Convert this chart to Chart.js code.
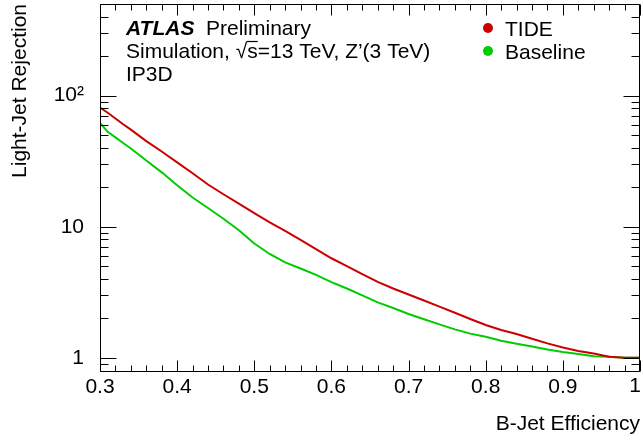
<!DOCTYPE html>
<html>
<head>
<meta charset="utf-8">
<script src="https://cdn.jsdelivr.net/npm/chart.js@4.4.1/dist/chart.umd.min.js"></script>
<style>
  html, body { margin: 0; padding: 0; background: #fff; }
  canvas { display: block; }
</style>
</head>
<body>
<canvas id="rocChart" width="641" height="438"></canvas>
<script>
// b-jet efficiency points shared by both curves
const bEff = [0.30, 0.31, 0.32, 0.33, 0.34, 0.36, 0.38, 0.40, 0.42, 0.44,
  0.46, 0.48, 0.50, 0.52, 0.54, 0.56, 0.58, 0.60, 0.62, 0.64,
  0.66, 0.68, 0.70, 0.72, 0.74, 0.76, 0.78, 0.80, 0.82, 0.84,
  0.86, 0.88, 0.90, 0.92, 0.94, 0.96, 0.98, 1.00];

// light-jet rejection, TIDE tracking
const tideRej = [81, 74, 67, 60.5, 55, 45, 37.5, 31, 25.6, 21.0,
  17.7, 15.0, 12.7, 10.8, 9.3, 7.95, 6.75, 5.75, 5.0, 4.35,
  3.8, 3.38, 3.04, 2.74, 2.46, 2.21, 1.98, 1.78, 1.63, 1.52,
  1.40, 1.29, 1.20, 1.13, 1.08, 1.02, 1.0, 1.0];

// light-jet rejection, baseline tracking
const baseRej = [62, 53, 48, 43.5, 39.5, 32, 26, 20.7, 16.7, 13.9,
  11.5, 9.4, 7.45, 6.2, 5.35, 4.8, 4.3, 3.78, 3.38, 3.0,
  2.65, 2.4, 2.16, 1.97, 1.80, 1.65, 1.53, 1.45, 1.35, 1.28,
  1.22, 1.16, 1.11, 1.07, 1.03, 1.02, 1.0, 1.0];

const seriesNames = ['TIDE', 'Baseline'];
const seriesColors = ['#cc0000', '#00cc00'];

const xTicks = [0.3, 0.4, 0.5, 0.6, 0.7, 0.8, 0.9, 1.0];
const yTicks = [1, 10, 100];
const yTickLabels = ['1', '10', '10²'];

const FONT = "'Liberation Sans', Arial, Helvetica, sans-serif";
Chart.defaults.font.family = FONT;
Chart.defaults.color = '#000';

const fmtX = (v) => String(Number(v.toFixed(1)));

// frame with ROOT-style inward ticks on all four sides
const frameTicks = {
  id: 'frameTicks',
  afterDatasetsDraw(chart) {
    const { ctx, chartArea: a, scales: { x, y } } = chart;
    const L = a.left + 0.5, R = a.right - 0.5, T = a.top + 0.5, B = a.bottom - 0.5;
    ctx.save();
    ctx.strokeStyle = '#000';
    ctx.lineWidth = 1;
    ctx.beginPath();
    ctx.rect(L, T, R - L, B - T);

    // x: majors plus 4 minors in between
    for (let i = 0; i < xTicks.length; i++) {
      const px = Math.round(x.getPixelForValue(xTicks[i])) + 0.5;
      ctx.moveTo(px, B); ctx.lineTo(px, B - 11);
      ctx.moveTo(px, T); ctx.lineTo(px, T + 11);
      if (i < xTicks.length - 1) {
        const step = (xTicks[i + 1] - xTicks[i]) / 5;
        for (let k = 1; k < 5; k++) {
          const mx = Math.round(x.getPixelForValue(xTicks[i] + k * step)) + 0.5;
          ctx.moveTo(mx, B); ctx.lineTo(mx, B - 6);
          ctx.moveTo(mx, T); ctx.lineTo(mx, T + 6);
        }
      }
    }

    // y: decades long, 2..9 short
    for (let d = 0.1; d <= 1000; d *= 10) {
      for (let k = 1; k <= 9; k++) {
        const v = k * d;
        if (v < y.min || v > y.max) continue;
        const py = Math.round(y.getPixelForValue(v)) + 0.5;
        const len = k === 1 ? 16 : 8;
        ctx.moveTo(L, py); ctx.lineTo(L + len, py);
        ctx.moveTo(R, py); ctx.lineTo(R - len, py);
      }
    }
    ctx.stroke();
    ctx.restore();
  }
};

// ATLAS label block, legend, and the last x label pulled inside the canvas
const labels = {
  id: 'labels',
  afterDraw(chart) {
    const { ctx, scales: { x } } = chart;
    ctx.save();
    ctx.fillStyle = '#000';
    ctx.strokeStyle = '#000';
    ctx.textBaseline = 'alphabetic';
    ctx.textAlign = 'left';

    ctx.font = `italic bold 21px ${FONT}`;
    ctx.fillText('ATLAS', 126, 35);
    ctx.font = `21px ${FONT}`;
    ctx.fillText('Preliminary', 206, 35);

    let cx = 126;
    const y2 = 58;
    const head = 'Simulation, ';
    ctx.fillText(head, cx, y2);
    cx += ctx.measureText(head).width;
    ctx.fillText('√', cx, y2);
    cx += ctx.measureText('√').width;
    ctx.fillText('s', cx, y2);
    const sw = ctx.measureText('s').width;
    ctx.beginPath();
    ctx.lineWidth = 1.2;
    ctx.moveTo(cx - 0.5, y2 - 16.5);
    ctx.lineTo(cx + sw, y2 - 16.5);
    ctx.stroke();
    cx += sw;
    ctx.fillText('=13 TeV, Z’(3 TeV)', cx, y2);

    ctx.fillText('IP3D', 126, 81);

    chart.data.datasets.forEach((ds, i) => {
      const cy = 28 + i * 23;
      ctx.fillStyle = ds.borderColor;
      ctx.beginPath();
      ctx.arc(488, cy, 5, 0, Math.PI * 2);
      ctx.fill();
      ctx.fillStyle = '#000';
      ctx.fillText(ds.label, 505, cy + 7.5);
    });

    const last = xTicks[xTicks.length - 1];
    ctx.textAlign = 'right';
    ctx.fillText(fmtX(last), Math.min(x.getPixelForValue(last) + 5, chart.width), 392);
    ctx.restore();
  }
};

const toPoints = (rej) => bEff.map((e, i) => ({ x: e, y: rej[i] }));

new Chart(document.getElementById('rocChart').getContext('2d'), {
  type: 'line',
  data: {
    datasets: [
      { label: seriesNames[0], data: toPoints(tideRej), borderColor: seriesColors[0] },
      { label: seriesNames[1], data: toPoints(baseRej), borderColor: seriesColors[1] }
    ]
  },
  options: {
    responsive: false,
    animation: false,
    devicePixelRatio: 1,
    layout: { padding: { top: 4, right: 1, bottom: 0, left: 0 } },
    elements: {
      line: { borderWidth: 2, tension: 0, fill: false },
      point: { radius: 0 }
    },
    plugins: {
      legend: { display: false },
      tooltip: { enabled: false }
    },
    scales: {
      x: {
        type: 'linear',
        min: 0.3,
        max: 1.0,
        grid: { display: false },
        border: { display: false },
        afterBuildTicks: (s) => { s.ticks = xTicks.map(v => ({ value: v })); },
        afterFit: (s) => { s.height = 66; s.paddingLeft = 0; s.paddingRight = 0; },
        ticks: {
          autoSkip: false,
          maxRotation: 0,
          padding: -5,
          font: { size: 21 },
          // the end label is drawn by the labels plugin so it stays on the canvas
          callback: (v) => (v >= xTicks[xTicks.length - 1] ? '' : fmtX(v))
        },
        title: {
          display: true,
          text: 'B-Jet Efficiency',
          align: 'end',
          font: { size: 21 },
          padding: { top: 0, bottom: 1 }
        }
      },
      y: {
        type: 'logarithmic',
        min: 0.78,
        max: 500,
        grid: { display: false },
        border: { display: false },
        afterBuildTicks: (s) => { s.ticks = yTicks.map(v => ({ value: v })); },
        afterFit: (s) => { s.width = 100; s.paddingTop = 0; s.paddingBottom = 0; },
        ticks: {
          autoSkip: false,
          padding: 8,
          font: { size: 21 },
          callback: (v) => yTickLabels[yTicks.indexOf(v)] ?? ''
        },
        title: {
          display: true,
          text: 'Light-Jet Rejection',
          align: 'end',
          font: { size: 21 },
          padding: { top: 8, bottom: 0 }
        }
      }
    }
  },
  plugins: [frameTicks, labels]
});
</script>
</body>
</html>
